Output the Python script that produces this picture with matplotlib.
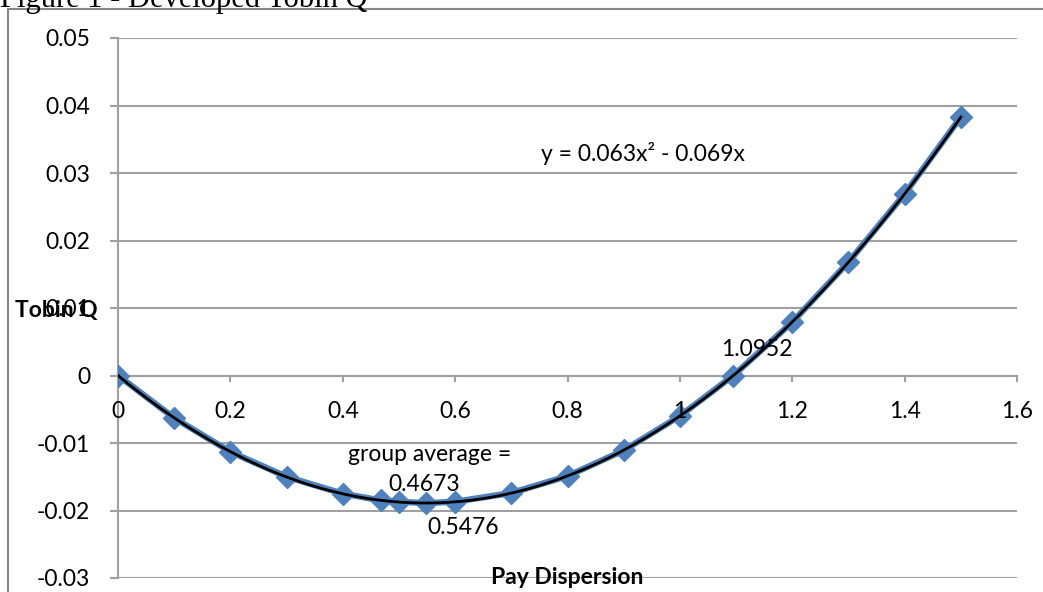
import numpy as np
import matplotlib.pyplot as plt
from matplotlib.patches import Rectangle

# pay dispersion values and the developed Tobin Q
pay_dispersion = [0, 0.1, 0.2, 0.3, 0.4, 0.4673, 0.5, 0.5476, 0.6, 0.7,
                  0.8, 0.9, 1.0, 1.0952, 1.2, 1.3, 1.4, 1.5]
tobin_q = [0.0, -0.0063, -0.0113, -0.0150, -0.0175, -0.0185, -0.0187, -0.0189,
           -0.0187, -0.0174, -0.0149, -0.0111, -0.0060, 0.0000, 0.0079, 0.0168,
           0.0269, 0.0383]
x_ticks = [0, 0.2, 0.4, 0.6, 0.8, 1, 1.2, 1.4, 1.6]
y_ticks = [-0.03, -0.02, -0.01, 0, 0.01, 0.02, 0.03, 0.04, 0.05]

BLUE = "#4F81BD"
GRID = "#A0A0A0"
FONT = "Lato"
FS = 16.5

W, H = 1043, 592
fig = plt.figure(figsize=(W / 100, H / 100), dpi=100)
ax = fig.add_axes([118 / W, 1 - 578 / H, (1017 - 118) / W, (578 - 38) / H])

# outer chart border (cut off at right and bottom)
fig.patches.append(Rectangle((8 / W, -0.1), 1.2, 1 - 9 / H + 0.1,
                             transform=fig.transFigure, fill=False,
                             edgecolor="#888888", lw=1.5))
fig.text(0.0, 1 - 7 / H, "Figure 1 - Developed Tobin Q", family="Liberation Serif",
         fontsize=22, va="baseline", ha="left")

ax.plot(pay_dispersion, tobin_q, color=BLUE, lw=4.5, marker="D", ms=11,
        markeredgecolor=BLUE, zorder=3)

# quadratic trendline through origin
xs = np.array(pay_dispersion)
coef, *_ = np.linalg.lstsq(np.column_stack([xs ** 2, xs]), np.array(tobin_q), rcond=None)
xx = np.linspace(0, 1.5, 200)
ax.plot(xx, coef[0] * xx ** 2 + coef[1] * xx, color="black", lw=2, zorder=4)

ax.set_xlim(0, 1.6)
ax.set_ylim(-0.03, 0.05)
ax.set_yticks(y_ticks)
ax.set_yticklabels([f"{v:g}" for v in y_ticks], family=FONT, fontsize=FS)
ax.set_xticks(x_ticks)
ax.set_xticklabels([])
ax.grid(axis="y", color=GRID, lw=1.5)
for s in ["top", "right", "bottom"]:
    ax.spines[s].set_visible(False)
ax.spines["left"].set_color(GRID)
ax.spines["left"].set_linewidth(1.5)
ax.tick_params(axis="y", length=6, width=1.5, color=GRID, pad=14)
ax.tick_params(axis="x", length=0)

# x axis crossing at y = 0 with tick labels beneath it
ax.axhline(0, color=GRID, lw=1.5, zorder=1)
for t in x_ticks:
    ax.plot([t, t], [0, -0.0008], color=GRID, lw=1.5, clip_on=False, zorder=1)
    ax.text(t, -0.0053, f"{t:g}", ha="center", va="center", family=FONT, fontsize=FS)

ax.text(0.935, 0.0329, "y = 0.063x\u00b2 - 0.069x", ha="center", va="center",
        family=FONT, fontsize=FS)
ax.text(1.137, 0.0038, "1.0952", ha="center", va="center", family=FONT, fontsize=FS)
ax.text(0.555, -0.0117, "group average =", ha="center", va="center", family=FONT, fontsize=FS)
ax.text(0.545, -0.0162, "0.4673", ha="center", va="center", family=FONT, fontsize=FS)
ax.text(0.615, -0.0225, "0.5476", ha="center", va="center", family=FONT, fontsize=FS)

fig.text(15 / W, 1 - 310 / H, "Tobin Q", family=FONT, fontsize=FS, fontweight="bold",
         ha="left", va="center")
fig.text(567 / W, 1 - 577 / H, "Pay Dispersion", family=FONT, fontsize=FS,
         fontweight="bold", ha="center", va="center")

fig.savefig("out.png", dpi=100)
